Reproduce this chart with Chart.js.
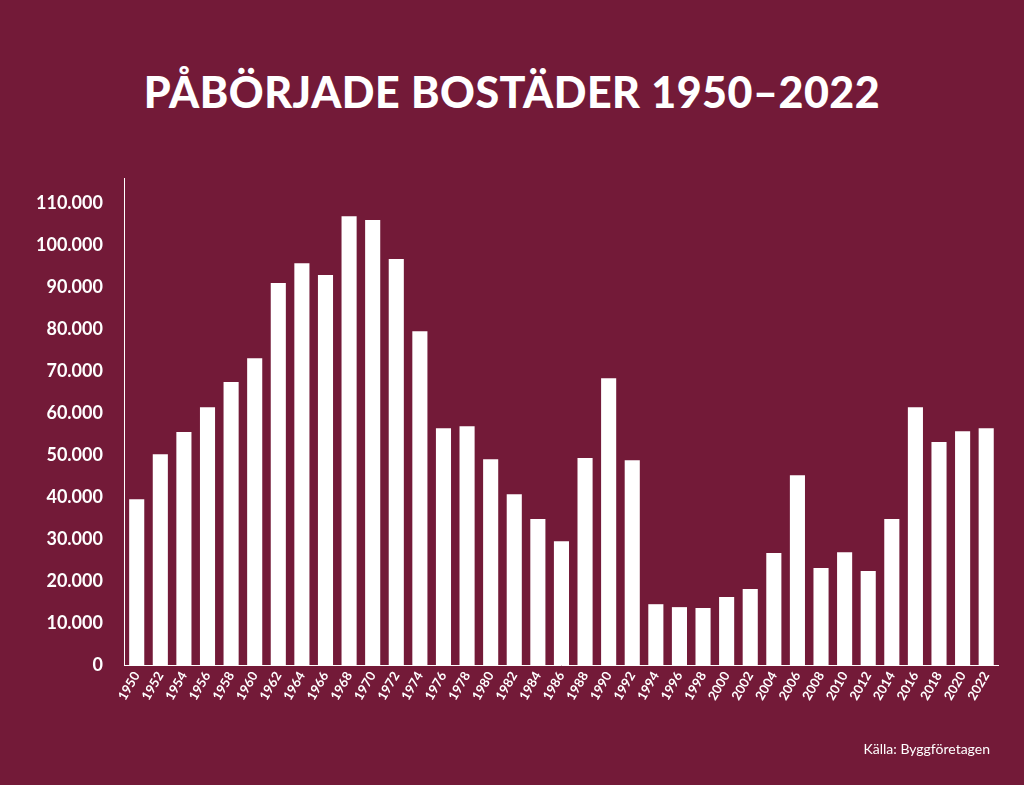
<!DOCTYPE html>
<html>
<head>
<meta charset="utf-8">
<script src="https://cdn.jsdelivr.net/npm/chart.js@4"></script>
<style>
  html, body { margin: 0; padding: 0; background: #731a38; width: 1024px; height: 785px; overflow: hidden; font-family: Lato, sans-serif; }
  #title { position: absolute; top: 66px; left: 0; width: 1024px; text-align: center; color: #fff; font-size: 43px; font-weight: 900; letter-spacing: 0.5px; }
  #source { position: absolute; top: 740px; right: 34px; color: #fff; font-size: 14px; }
  #wrap { position: absolute; left: 0; top: 0; width: 1024px; height: 785px; }
</style>
</head>
<body>
<div id="title">PÅBÖRJADE BOSTÄDER 1950–2022</div>
<div id="wrap"><canvas id="chart"></canvas></div>
<div id="source">Källa: Byggföretagen</div>
<script>
const years = [];
for (let y = 1950; y <= 2022; y += 2) years.push(String(y));

const started = [39500, 50200, 55500, 61400, 67400, 73100, 91000, 95700, 92900, 106900,
  106000, 96700, 79500, 56400, 56900, 49000, 40700, 34800, 29500, 49300, 68300, 48800,
  14500, 13800, 13600, 16200, 18100, 26700, 45200, 23100, 26900, 22400, 34800, 61400,
  53100, 55700, 56400];

const yTicks = [0, 10000, 20000, 30000, 40000, 50000, 60000, 70000, 80000, 90000, 100000, 110000];

const fmt = v => v.toLocaleString('de-DE');

new Chart(document.getElementById('chart'), {
  type: 'bar',
  data: {
    labels: years,
    datasets: [{ data: started, backgroundColor: '#ffffff', barPercentage: 0.64, categoryPercentage: 1 }]
  },
  options: {
    responsive: true,
    maintainAspectRatio: false,
    animation: false,
    layout: { padding: { top: 178, left: 14, right: 26, bottom: 78 } },
    plugins: { legend: { display: false }, tooltip: { enabled: false } },
    scales: {
      x: {
        grid: { display: false, drawTicks: false },
        border: { color: '#ffffff', width: 1 },
        ticks: { color: '#fff', font: { family: 'Lato', weight: 'bold', size: 13 }, minRotation: 60, maxRotation: 60, autoSkip: false, padding: 4 }
      },
      y: {
        min: 0, max: 116000,
        grid: { display: false, drawTicks: false },
        border: { color: '#ffffff', width: 1 },
        afterBuildTicks: axis => { axis.ticks = yTicks.map(v => ({ value: v })); },
        ticks: { color: '#fff', padding: 22, font: { family: 'Lato', weight: 'bold', size: 18 }, callback: v => fmt(v) }
      }
    }
  }
});
</script>
</body>
</html>
